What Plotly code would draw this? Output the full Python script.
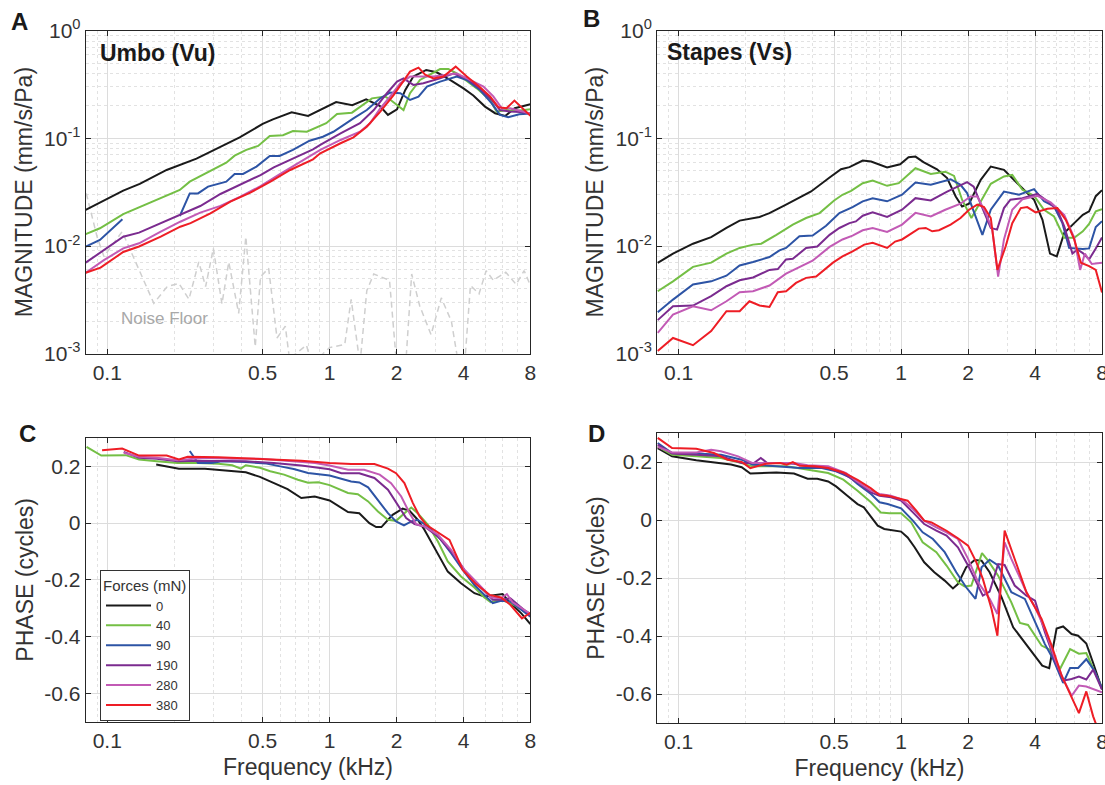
import numpy as np
import plotly.graph_objects as go

W, H = 1105, 785

FORCES = ["0", "40", "90", "190", "280", "380"]
COLORS = ["#1a1a1a", "#74bf45", "#2d54a5", "#7b2b8f", "#c25ab5", "#ee1d25"]

X_TICKS = [0.1, 0.5, 1, 2, 4, 8]
X_TICK_TEXT = ["0.1", "0.5", "1", "2", "4", "8"]
X_MINOR = [0.09, 0.2, 0.3, 0.4, 0.6, 0.7, 0.8, 0.9, 3, 5, 6, 7]
MAG_TICKS = [0.001, 0.01, 0.1, 1]
MAG_TICK_TEXT = ["10<sup>-3</sup>", "10<sup>-2</sup>", "10<sup>-1</sup>", "10<sup>0</sup>"]
MAG_MINOR = [2e-3, 3e-3, 4e-3, 5e-3, 6e-3, 7e-3, 8e-3, 9e-3,
             2e-2, 3e-2, 4e-2, 5e-2, 6e-2, 7e-2, 8e-2, 9e-2,
             0.2, 0.3, 0.4, 0.5, 0.6, 0.7, 0.8, 0.9]
PH_TICKS = [-0.6, -0.4, -0.2, 0, 0.2]
PH_TICK_TEXT = ["-0.6", "-0.4", "-0.2", "0", "0.2"]

# ---------------- Panel A: Umbo magnitude (mm/s/Pa) ----------------
A_BLACK_F = [0.08, 0.118, 0.140, 0.185, 0.252, 0.321, 0.394, 0.5, 0.556, 0.675, 0.80, 1.07, 1.265, 1.46, 1.68, 1.83, 2.01, 2.19, 2.38, 2.72, 3.03, 3.48, 4.0, 4.43, 5.0, 5.55, 6.16, 6.8, 8.0]
A_BLACK_V = [0.0216, 0.0327, 0.0377, 0.0508, 0.0648, 0.0825, 0.102, 0.136, 0.150, 0.174, 0.161, 0.217, 0.203, 0.230, 0.20, 0.165, 0.186, 0.281, 0.374, 0.431, 0.41, 0.348, 0.291, 0.25, 0.197, 0.171, 0.161, 0.19, 0.207]
A_GREEN_F = [0.08, 0.0927, 0.118, 0.150, 0.212, 0.235, 0.279, 0.343, 0.374, 0.422, 0.477, 0.538, 0.617, 0.684, 0.79, 0.966, 1.08, 1.26, 1.55, 1.78, 1.9, 2.15, 2.30, 2.55, 3.14, 3.42, 3.73, 4.59, 5.27, 5.64, 6.25, 7.0, 8.0]
A_GREEN_V = [0.0129, 0.0146, 0.0198, 0.0245, 0.0331, 0.0396, 0.0473, 0.0594, 0.069, 0.078, 0.085, 0.105, 0.107, 0.117, 0.115, 0.138, 0.168, 0.173, 0.235, 0.244, 0.223, 0.183, 0.262, 0.348, 0.44, 0.44, 0.40, 0.291, 0.227, 0.177, 0.183, 0.18, 0.186]
A_BLUE_F = [0.08, 0.0927, 0.117, 0.15, 0.212, 0.235, 0.256, 0.284, 0.343, 0.374, 0.408, 0.469, 0.538, 0.596, 0.684, 0.813, 0.933, 1.04, 1.28, 1.47, 1.69, 1.87, 2.08, 2.30, 2.51, 2.74, 3.14, 3.73, 4.14, 4.75, 5.36, 5.84, 6.36, 7.13, 8.0]
A_BLUE_V = [0.00986, 0.0114, 0.0177, None, 0.019, 0.0308, 0.0308, 0.0356, 0.0396, 0.0467, 0.0467, 0.0546, 0.0686, 0.0686, 0.078, 0.095, 0.1035, 0.115, 0.153, 0.183, 0.235, 0.266, 0.262, 0.227, 0.244, 0.302, 0.336, 0.374, 0.348, 0.281, 0.211, 0.165, 0.157, 0.167, 0.17]
A_PURPLE_F = [0.08, 0.0966, 0.118, 0.139, 0.174, 0.213, 0.262, 0.323, 0.397, 0.489, 0.561, 0.665, 0.842, 0.908, 1.12, 1.37, 1.58, 1.81, 2.01, 2.15, 2.38, 2.64, 3.14, 3.6, 4.14, 4.75, 5.36, 5.84, 6.48, 7.2, 8.0]
A_PURPLE_V = [0.0070, 0.0092, 0.0122, 0.0133, 0.0163, 0.0194, 0.0235, 0.0304, 0.0369, 0.0456, 0.0538, 0.063, 0.079, 0.0867, 0.111, 0.138, 0.183, 0.262, 0.336, 0.36, 0.313, 0.325, 0.36, 0.40, 0.36, 0.291, 0.227, 0.183, 0.177, 0.175, 0.17]
A_PINK_F = [0.08, 0.0966, 0.118, 0.139, 0.174, 0.213, 0.262, 0.323, 0.397, 0.489, 0.60, 0.738, 0.908, 1.12, 1.37, 1.52, 1.69, 1.87, 2.08, 2.30, 2.55, 2.93, 3.36, 3.73, 4.28, 4.92, 5.45, 5.95, 6.48, 7.2, 8.0]
A_PINK_V = [0.00565, 0.0074, 0.0095, 0.0106, 0.0136, 0.0168, 0.0204, 0.0236, 0.0287, 0.036, 0.0467, 0.060, 0.078, 0.0965, 0.115, 0.138, 0.19, 0.244, 0.324, 0.374, 0.374, 0.374, 0.39, 0.40, 0.348, 0.302, 0.245, 0.19, 0.19, 0.18, 0.17]
A_RED_F = [0.08, 0.0933, 0.118, 0.139, 0.174, 0.213, 0.237, 0.291, 0.358, 0.44, 0.542, 0.665, 0.842, 0.908, 1.12, 1.28, 1.47, 1.69, 1.94, 2.15, 2.30, 2.51, 2.69, 2.93, 3.25, 3.69, 4.14, 4.75, 5.27, 5.75, 6.25, 6.78, 8.0]
A_RED_V = [0.00565, 0.0063, 0.0088, 0.0099, 0.0122, 0.0151, 0.0163, 0.0201, 0.0258, 0.0313, 0.0396, 0.0508, 0.0638, 0.0726, 0.090, 0.102, 0.128, 0.177, 0.252, 0.336, 0.416, 0.453, 0.39, 0.36, 0.374, 0.463, 0.374, 0.298, 0.245, 0.194, 0.19, 0.224, 0.162]
NOISE_F = [0.0805, 0.090, 0.0966, 0.1167, 0.162, 0.186, 0.21, 0.233, 0.258, 0.277, 0.30, 0.328, 0.352, 0.39, 0.42, 0.463, 0.489, 0.532, 0.58, 0.632, 0.66, 0.787, 0.83, 1.0, 1.17, 1.25, 1.37, 1.47, 1.58, 1.86, 2.0, 2.2, 2.34, 2.54, 2.86, 3.18, 3.53, 3.8, 4.05, 4.3, 4.7, 5.06, 5.45, 6.2, 6.9, 7.5, 8.0]
NOISE_V = [0.0308, 0.0122, 0.008, 0.0136, 0.00294, 0.0042, 0.0045, 0.0032, 0.0071, 0.0042, 0.0095, 0.0029, 0.0071, 0.00237, 0.0122, 0.00116, 0.0052, 0.0062, 0.0014, 0.0018, 0.0009, 0.0012, 0.0008, 0.00114, 0.00122, 0.0032, 0.0008, 0.00385, 0.0055, 0.0048, 0.0008, 0.0008, 0.0055, 0.0028, 0.0015, 0.0033, 0.002, 0.0008, 0.0008, 0.0043, 0.0036, 0.0059, 0.0048, 0.0057, 0.0044, 0.0059, 0.0043]

# ---------------- Panel B: Stapes magnitude (mm/s/Pa) ----------------
B_BLACK_F = [0.0805, 0.0943, 0.116, 0.140, 0.164, 0.188, 0.231, 0.256, 0.304, 0.349, 0.394, 0.477, 0.537, 0.586, 0.672, 0.733, 0.865, 0.99, 1.08, 1.16, 1.26, 1.45, 1.61, 1.76, 1.88, 2.02, 2.28, 2.53, 2.90, 3.33, 3.96, 4.32, 4.67, 5.01, 5.41, 6.0, 6.56, 7.0, 7.5, 8.0]
B_BLACK_V = [0.00697, 0.0085, 0.0105, 0.0121, 0.0147, 0.0172, 0.0186, 0.0202, 0.0242, 0.0284, 0.0321, 0.0432, 0.0516, 0.054, 0.0621, 0.0608, 0.0535, 0.0574, 0.0667, 0.0676, 0.06, 0.0516, 0.0427, 0.0288, 0.0233, 0.0247, 0.0411, 0.0547, 0.0509, 0.0383, 0.0269, 0.0175, 0.0085, 0.008, 0.0132, 0.0163, 0.0195, 0.021, 0.029, 0.033]
B_GREEN_F = [0.0805, 0.0943, 0.116, 0.140, 0.164, 0.188, 0.216, 0.235, 0.275, 0.326, 0.374, 0.43, 0.5, 0.545, 0.596, 0.672, 0.745, 0.865, 0.976, 1.16, 1.36, 1.58, 1.73, 1.88, 2.07, 2.28, 2.53, 2.9, 3.16, 3.51, 3.96, 4.39, 4.87, 5.41, 6.0, 6.56, 7.0, 7.5, 8.0]
B_GREEN_V = [0.0038, 0.0047, 0.0064, 0.007, 0.0085, 0.0096, 0.0103, 0.0105, 0.0127, 0.0158, 0.0182, 0.0202, 0.0265, 0.0299, 0.0325, 0.0383, 0.0405, 0.0362, 0.0383, 0.0527, 0.0467, 0.049, 0.0448, 0.0269, 0.0182, 0.026, 0.0378, 0.0442, 0.0457, 0.0333, 0.0292, 0.0217, 0.0188, 0.0119, 0.0119, 0.0137, 0.016, 0.021, 0.022]
B_BLUE_F = [0.0805, 0.0943, 0.116, 0.140, 0.164, 0.188, 0.216, 0.256, 0.284, 0.304, 0.349, 0.4, 0.46, 0.528, 0.605, 0.672, 0.745, 0.865, 1.01, 1.16, 1.36, 1.67, 1.85, 1.98, 2.12, 2.32, 2.53, 2.90, 3.39, 3.69, 3.96, 4.39, 4.87, 5.31, 5.69, 6.56, 7.0, 7.5, 8.0]
B_BLUE_V = [0.00243, 0.00318, 0.00439, 0.0047, 0.0053, 0.0066, 0.0071, 0.0079, 0.0091, 0.0096, 0.0123, 0.0125, 0.0154, 0.0202, 0.023, 0.026, 0.0278, 0.026, 0.0299, 0.0389, 0.037, 0.0417, 0.037, 0.031, 0.021, 0.0127, 0.0217, 0.032, 0.0299, 0.032, 0.0337, 0.026, 0.0233, 0.0163, 0.0096, 0.0094, 0.0095, 0.015, 0.017]
B_PURPLE_F = [0.0805, 0.0943, 0.116, 0.140, 0.164, 0.188, 0.216, 0.256, 0.279, 0.304, 0.326, 0.374, 0.42, 0.477, 0.528, 0.586, 0.626, 0.672, 0.745, 0.865, 1.01, 1.16, 1.36, 1.61, 1.98, 2.12, 2.32, 2.53, 2.7, 2.9, 3.1, 3.51, 4.1, 4.55, 5.04, 5.41, 5.89, 6.2, 6.56, 7.0, 7.5, 8.0]
B_PURPLE_V = [0.00205, 0.00276, 0.0028, 0.00342, 0.00423, 0.0048, 0.0051, 0.006, 0.0061, 0.0075, 0.0076, 0.0096, 0.0099, 0.0127, 0.0147, 0.0163, 0.0169, 0.0191, 0.0205, 0.0186, 0.0217, 0.0278, 0.0265, 0.032, 0.0392, 0.0356, 0.0225, 0.0147, 0.0142, 0.0225, 0.0269, 0.0278, 0.0305, 0.026, 0.0217, 0.0152, 0.0085, 0.0093, 0.0086, 0.0075, 0.0095, 0.012]
B_PINK_F = [0.0805, 0.0943, 0.116, 0.140, 0.164, 0.188, 0.216, 0.256, 0.304, 0.349, 0.4, 0.477, 0.545, 0.605, 0.672, 0.745, 0.865, 1.01, 1.16, 1.36, 1.58, 1.85, 2.05, 2.2, 2.4, 2.57, 2.73, 2.9, 3.16, 3.51, 4.1, 4.7, 5.41, 6.0, 6.38, 6.7, 7.2, 8.0]
B_PINK_V = [0.00156, 0.00231, 0.00276, 0.00253, 0.00307, 0.00372, 0.0038, 0.0043, 0.00554, 0.0064, 0.0073, 0.0098, 0.0115, 0.0125, 0.014, 0.0147, 0.0135, 0.0158, 0.0203, 0.0188, 0.0217, 0.0247, 0.0288, 0.0288, 0.0203, 0.0142, 0.0052, 0.0115, 0.0217, 0.0272, 0.0292, 0.0254, 0.0195, 0.0119, 0.006, 0.0085, 0.0068, 0.007]
B_RED_F = [0.0805, 0.0943, 0.116, 0.140, 0.164, 0.188, 0.208, 0.231, 0.256, 0.279, 0.304, 0.337, 0.374, 0.415, 0.494, 0.545, 0.605, 0.683, 0.745, 0.865, 0.94, 1.01, 1.2, 1.29, 1.38, 1.48, 1.67, 1.85, 2.02, 2.2, 2.36, 2.53, 2.71, 2.95, 3.16, 3.45, 3.69, 4.02, 4.55, 5.04, 5.5, 6.0, 6.43, 7.0, 7.5, 8.0]
B_RED_V = [0.00106, 0.0014, 0.0012, 0.00162, 0.00248, 0.00248, 0.00307, 0.0028, 0.00272, 0.00372, 0.0038, 0.00454, 0.00506, 0.0052, 0.0070, 0.008, 0.0089, 0.0103, 0.0107, 0.0096, 0.011, 0.0115, 0.0145, 0.0147, 0.0137, 0.014, 0.0158, 0.0182, 0.0217, 0.0242, 0.023, 0.0182, 0.006, 0.0099, 0.0163, 0.0225, 0.023, 0.0205, 0.0222, 0.0225, 0.0175, 0.0115, 0.007, 0.0065, 0.006, 0.0037]

# ---------------- Panel C: Umbo phase (cycles) ----------------
C_BLACK_F = [0.166, 0.21, 0.275, 0.34, 0.42, 0.486, 0.561, 0.647, 0.746, 0.857, 1.0, 1.13, 1.21, 1.36, 1.51, 1.62, 1.71, 1.92, 2.13, 2.29, 2.49, 2.67, 2.96, 3.40, 3.90, 4.48, 4.97, 5.7, 6.0, 6.4, 7.3, 8.0]
C_BLACK_V = [0.2065, 0.192, 0.192, 0.186, 0.179, 0.163, 0.142, 0.12, 0.0885, 0.094, 0.08, 0.053, 0.039, 0.035, 0.0, -0.014, -0.014, 0.029, 0.051, 0.0435, 0.012, -0.0235, -0.088, -0.171, -0.212, -0.247, -0.259, -0.253, -0.25, -0.276, -0.319, -0.356]
C_GREEN_F = [0.0807, 0.094, 0.121, 0.139, 0.167, 0.207, 0.256, 0.316, 0.365, 0.399, 0.42, 0.486, 0.541, 0.624, 0.72, 0.8, 0.89, 1.0, 1.21, 1.34, 1.49, 1.65, 1.83, 1.99, 2.17, 2.33, 2.49, 2.77, 3.07, 3.4, 3.9, 4.48, 4.97, 5.3, 5.9, 6.5, 8.0]
C_GREEN_V = [0.269, 0.238, 0.2395, 0.224, 0.218, 0.212, 0.212, 0.209, 0.204, 0.192, 0.204, 0.195, 0.183, 0.171, 0.153, 0.142, 0.144, 0.134, 0.106, 0.102, 0.0765, 0.041, 0.0118, 0.008, 0.035, 0.055, 0.035, -0.006, -0.065, -0.135, -0.188, -0.227, -0.262, -0.279, -0.27, -0.282, -0.319]
C_BLUE_F = [0.235, 0.256, 0.295, 0.328, 0.42, 0.52, 0.60, 0.69, 0.80, 1.0, 1.25, 1.36, 1.49, 1.65, 1.83, 1.99, 2.16, 2.33, 2.49, 2.77, 3.17, 3.52, 3.97, 4.48, 4.89, 5.42, 5.9, 6.5, 8.0]
C_BLUE_V = [0.254, 0.212, 0.212, 0.218, 0.215, 0.21, 0.2, 0.191, 0.177, 0.168, 0.147, 0.1435, 0.126, 0.082, 0.035, 0.006, -0.008, 0.006, 0.012, -0.012, -0.059, -0.106, -0.165, -0.218, -0.247, -0.282, -0.274, -0.276, -0.33]
C_PURPLE_F = [0.1186, 0.139, 0.167, 0.207, 0.256, 0.316, 0.42, 0.561, 0.746, 1.0, 1.13, 1.36, 1.59, 1.83, 2.03, 2.21, 2.41, 2.67, 3.07, 3.52, 4.04, 4.63, 5.42, 5.9, 6.5, 8.0]
C_PURPLE_V = [0.251, 0.23, 0.2265, 0.218, 0.22, 0.22, 0.218, 0.212, 0.203, 0.19, 0.176, 0.176, 0.159, 0.118, 0.065, 0.018, -0.0035, -0.012, -0.047, -0.1, -0.165, -0.212, -0.27, -0.27, -0.265, -0.325]
C_PINK_F = [0.1186, 0.139, 0.167, 0.207, 0.275, 0.365, 0.486, 0.647, 0.861, 1.0, 1.21, 1.43, 1.68, 1.89, 2.10, 2.29, 2.45, 2.67, 3.07, 3.52, 4.04, 4.63, 5.33, 5.9, 6.27, 6.65, 8.0]
C_PINK_V = [0.248, 0.234, 0.23, 0.222, 0.23, 0.2265, 0.2265, 0.218, 0.212, 0.203, 0.188, 0.188, 0.171, 0.141, 0.094, 0.035, -0.0035, -0.012, -0.041, -0.094, -0.165, -0.212, -0.262, -0.265, -0.25, -0.279, -0.32]
C_RED_F = [0.0948, 0.1167, 0.139, 0.185, 0.21, 0.23, 0.316, 0.42, 0.561, 0.746, 1.0, 1.25, 1.59, 1.83, 1.99, 2.17, 2.37, 2.54, 2.72, 3.07, 3.46, 3.97, 4.55, 5.24, 5.9, 6.5, 7.33, 8.0]
C_RED_V = [0.257, 0.263, 0.238, 0.238, 0.224, 0.234, 0.2325, 0.228, 0.224, 0.2195, 0.212, 0.208, 0.208, 0.192, 0.176, 0.141, 0.0706, 0.0235, -0.006, -0.032, -0.059, -0.165, -0.215, -0.253, -0.262, -0.288, -0.336, -0.316]

# ---------------- Panel D: Stapes phase (cycles) ----------------
D_BLACK_F = [0.0805, 0.0934, 0.12, 0.155, 0.172, 0.192, 0.21, 0.275, 0.33, 0.38, 0.42, 0.47, 0.51, 0.566, 0.637, 0.68, 0.785, 0.84, 1.0, 1.07, 1.15, 1.27, 1.41, 1.57, 1.71, 1.8, 1.96, 2.14, 2.30, 2.5, 2.83, 3.19, 3.6, 4.0, 4.31, 4.63, 5.0, 5.35, 5.84, 6.25, 6.8, 7.3, 8.0]
D_BLACK_V = [0.248, 0.2195, 0.206, 0.194, 0.191, 0.182, 0.16, 0.164, 0.16, 0.1425, 0.1425, 0.133, 0.116, 0.087, 0.055, 0.0437, -0.0195, -0.031, -0.040, -0.06, -0.094, -0.146, -0.18, -0.209, -0.236, -0.221, -0.163, -0.138, -0.14, -0.18, -0.267, -0.37, -0.422, -0.468, -0.502, -0.511, -0.374, -0.367, -0.393, -0.399, -0.426, -0.493, -0.583]
D_GREEN_F = [0.0805, 0.0934, 0.12, 0.155, 0.192, 0.214, 0.306, 0.38, 0.47, 0.55, 0.637, 0.732, 0.81, 0.886, 1.0, 1.11, 1.25, 1.44, 1.6, 1.8, 1.93, 2.07, 2.31, 2.46, 2.73, 3.13, 3.42, 3.72, 4.28, 4.66, 5.18, 5.75, 6.3, 6.8, 8.0]
D_GREEN_V = [0.254, 0.225, 0.2195, 0.214, 0.1965, 0.185, 0.185, 0.1736, 0.162, 0.139, 0.101, 0.061, 0.026, 0.023, 0.023, -0.008, -0.077, -0.111, -0.157, -0.215, -0.229, -0.226, -0.114, -0.14, -0.192, -0.284, -0.355, -0.362, -0.433, -0.447, -0.514, -0.445, -0.461, -0.459, -0.58]
D_BLUE_F = [0.0805, 0.0934, 0.12, 0.155, 0.192, 0.214, 0.275, 0.35, 0.44, 0.51, 0.586, 0.637, 0.732, 0.8, 0.87, 1.0, 1.13, 1.25, 1.39, 1.57, 1.77, 1.96, 2.16, 2.30, 2.5, 2.73, 3.13, 3.6, 4.07, 4.43, 4.82, 5.35, 5.75, 6.25, 6.8, 7.4, 8.0]
D_BLUE_V = [0.2655, 0.231, 0.229, 0.225, 0.208, 0.191, 0.185, 0.179, 0.179, 0.168, 0.148, 0.124, 0.0897, 0.061, 0.055, 0.040, -0.0023, -0.0425, -0.0655, -0.111, -0.18, -0.232, -0.272, -0.163, -0.137, -0.157, -0.249, -0.272, -0.364, -0.428, -0.479, -0.562, -0.51, -0.51, -0.48, -0.52, -0.58]
D_PURPLE_F = [0.0805, 0.0934, 0.12, 0.155, 0.192, 0.218, 0.234, 0.25, 0.286, 0.33, 0.38, 0.47, 0.55, 0.637, 0.732, 0.8, 0.9, 1.0, 1.13, 1.27, 1.44, 1.6, 1.8, 2.0, 2.18, 2.33, 2.5, 2.73, 2.92, 3.24, 3.66, 4.0, 4.43, 4.92, 5.35, 5.84, 6.3, 6.8, 7.3, 8.0]
D_PURPLE_V = [0.26, 0.229, 0.225, 0.2195, 0.1965, 0.1965, 0.214, 0.1965, 0.1965, 0.194, 0.185, 0.179, 0.16, 0.13, 0.0954, 0.0839, 0.078, 0.0667, 0.0264, -0.0138, -0.037, -0.054, -0.094, -0.157, -0.215, -0.261, -0.247, -0.152, -0.155, -0.226, -0.261, -0.278, -0.387, -0.485, -0.554, -0.548, -0.54, -0.55, -0.516, -0.585]
D_PINK_F = [0.0805, 0.0934, 0.12, 0.14, 0.155, 0.185, 0.214, 0.275, 0.33, 0.38, 0.47, 0.566, 0.637, 0.732, 0.8, 0.9, 1.0, 1.13, 1.27, 1.44, 1.6, 1.8, 2.0, 2.22, 2.5, 2.71, 2.92, 3.13, 3.66, 4.0, 4.43, 4.92, 5.35, 5.84, 6.3, 6.8, 8.0]
D_PINK_V = [0.252, 0.233, 0.233, 0.2425, 0.237, 0.2195, 0.1965, 0.1965, 0.1965, 0.1885, 0.185, 0.162, 0.132, 0.101, 0.09, 0.084, 0.072, 0.038, -0.0023, -0.0253, -0.0425, -0.0655, -0.134, -0.215, -0.272, -0.324, -0.077, -0.134, -0.249, -0.301, -0.376, -0.479, -0.548, -0.606, -0.571, -0.574, -0.594]
D_RED_F = [0.0805, 0.0934, 0.12, 0.144, 0.166, 0.192, 0.21, 0.247, 0.286, 0.306, 0.326, 0.35, 0.41, 0.47, 0.55, 0.637, 0.732, 0.8, 0.87, 1.0, 1.07, 1.17, 1.27, 1.37, 1.46, 1.6, 1.8, 2.0, 2.18, 2.33, 2.55, 2.71, 2.92, 3.24, 3.66, 4.28, 4.75, 5.27, 5.84, 6.3, 6.8, 7.3, 8.0]
D_RED_V = [0.283, 0.248, 0.246, 0.231, 0.208, 0.2, 0.179, 0.194, 0.1965, 0.191, 0.2, 0.187, 0.185, 0.179, 0.164, 0.138, 0.109, 0.0862, 0.084, 0.072, 0.0667, 0.0322, -0.0023, -0.008, -0.0195, -0.037, -0.063, -0.0885, -0.146, -0.203, -0.307, -0.399, -0.0368, -0.134, -0.249, -0.341, -0.433, -0.537, -0.611, -0.666, -0.591, -0.677, -0.76]

PANELS = {
    "A": ([A_BLACK_F, A_GREEN_F, A_BLUE_F, A_PURPLE_F, A_PINK_F, A_RED_F],
          [A_BLACK_V, A_GREEN_V, A_BLUE_V, A_PURPLE_V, A_PINK_V, A_RED_V]),
    "B": ([B_BLACK_F, B_GREEN_F, B_BLUE_F, B_PURPLE_F, B_PINK_F, B_RED_F],
          [B_BLACK_V, B_GREEN_V, B_BLUE_V, B_PURPLE_V, B_PINK_V, B_RED_V]),
    "C": ([C_BLACK_F, C_GREEN_F, C_BLUE_F, C_PURPLE_F, C_PINK_F, C_RED_F],
          [C_BLACK_V, C_GREEN_V, C_BLUE_V, C_PURPLE_V, C_PINK_V, C_RED_V]),
    "D": ([D_BLACK_F, D_GREEN_F, D_BLUE_F, D_PURPLE_F, D_PINK_F, D_RED_F],
          [D_BLACK_V, D_GREEN_V, D_BLUE_V, D_PURPLE_V, D_PINK_V, D_RED_V]),
}

FONT = "Liberation Sans, Arial, Helvetica, sans-serif"
TXT = "#333333"
TICK_SIZE = 21
TITLE_SIZE = 23

def px_x(p):
    return p / W

def px_y(p):
    return 1 - p / H

# plot-area rectangles in pixels: left, right, top, bottom
BOX = {
    "A": (85.7, 530.4, 30.6, 353.7),
    "B": (657.1, 1102.0, 30.6, 353.7),
    "C": (85.7, 530.4, 438.0, 721.7),
    "D": (657.1, 1102.0, 433.0, 723.0),
}
AX = {"A": ("x", "y"), "B": ("x2", "y2"), "C": ("x3", "y3"), "D": ("x4", "y4")}

fig = go.Figure()

# noise floor (panel A)
fig.add_trace(go.Scatter(x=NOISE_F, y=NOISE_V, mode="lines", xaxis="x", yaxis="y",
                         line=dict(color="#cfcfcf", width=1.5, dash="6px,4px"),
                         showlegend=False, hoverinfo="skip"))

for key, (fl, vl) in PANELS.items():
    xa, ya = AX[key]
    for i in range(6):
        fig.add_trace(go.Scatter(
            x=fl[i], y=vl[i], mode="lines", xaxis=xa, yaxis=ya,
            name=FORCES[i], showlegend=(key == "C"), connectgaps=False,
            line=dict(color=COLORS[i], width=2)))

layout = dict(width=W, height=H, margin=dict(l=0, r=0, t=0, b=0, pad=0, autoexpand=False),
              paper_bgcolor="white", plot_bgcolor="white",
              font=dict(family=FONT, color=TXT, size=19))

COMMON = dict(ticks="inside", ticklen=5, tickcolor="#262626", tickwidth=1,
              showline=True, linecolor="#262626", linewidth=1, mirror="ticks",
              showgrid=True, gridcolor="#dcdcdc", gridwidth=1, zeroline=False,
              automargin=False, ticklabeloverflow="allow",
              tickfont=dict(size=TICK_SIZE, color=TXT))

def xaxis_cfg(key, anchor, title):
    l, r, t, b = BOX[key]
    cfg = dict(type="log", range=[np.log10(0.08), np.log10(8)], domain=[px_x(l), px_x(r)],
               anchor=anchor, tickvals=X_TICKS, ticktext=X_TICK_TEXT,
               minor=dict(tickvals=X_MINOR, showgrid=True, gridcolor="#e2e2e2",
                          griddash="dot", gridwidth=1, ticks=""), **COMMON)
    if title:
        cfg["title"] = dict(text=title, font=dict(size=TITLE_SIZE, color=TXT), standoff=7)
    return cfg

def yaxis_mag(key, anchor):
    l, r, t, b = BOX[key]
    return dict(type="log", range=[-3, 0], domain=[px_y(b), px_y(t)], anchor=anchor,
                tickvals=MAG_TICKS, ticktext=MAG_TICK_TEXT,
                minor=dict(tickvals=MAG_MINOR, showgrid=True, gridcolor="#e2e2e2",
                           griddash="dot", gridwidth=1, ticks=""),
                title=dict(text="MAGNITUDE (mm/s/Pa)", font=dict(size=TITLE_SIZE, color=TXT), standoff=5),
                **COMMON)

def yaxis_ph(key, anchor):
    l, r, t, b = BOX[key]
    return dict(range=[-0.7, 0.3], domain=[px_y(b), px_y(t)], anchor=anchor,
                tickvals=PH_TICKS, ticktext=PH_TICK_TEXT,
                title=dict(text="PHASE (cycles)", font=dict(size=TITLE_SIZE, color=TXT), standoff=4),
                **COMMON)

layout["xaxis"] = xaxis_cfg("A", "y", None)
layout["xaxis2"] = xaxis_cfg("B", "y2", None)
layout["xaxis3"] = xaxis_cfg("C", "y3", "Frequency (kHz)")
layout["xaxis4"] = xaxis_cfg("D", "y4", "Frequency (kHz)")
layout["yaxis"] = yaxis_mag("A", "x")
layout["yaxis2"] = yaxis_mag("B", "x2")
layout["yaxis3"] = yaxis_ph("C", "x3")
layout["yaxis4"] = yaxis_ph("D", "x4")

layout["legend"] = dict(
    x=px_x(100), y=px_y(570), xanchor="left", yanchor="top",
    bgcolor="white", bordercolor="#333333", borderwidth=1,
    font=dict(size=13, color=TXT), tracegroupgap=0,
    title=dict(text="Forces (mN)", font=dict(size=15, color=TXT), side="top"),
    itemwidth=45)

annotations = []
for letter, (lx, ly) in {"A": (19, 22), "B": (591, 19), "C": (27, 433), "D": (596, 433)}.items():
    annotations.append(dict(text="<b>%s</b>" % letter, x=px_x(lx), y=px_y(ly), xref="paper", yref="paper",
                            showarrow=False, xanchor="center", yanchor="middle",
                            font=dict(size=24, color="#1a1a1a")))
annotations.append(dict(text="<b>Umbo (Vu)</b>", x=px_x(98), y=px_y(53), xref="paper", yref="paper",
                        showarrow=False, xanchor="left", yanchor="middle", font=dict(size=23, color="#1a1a1a")))
annotations.append(dict(text="<b>Stapes (Vs)</b>", x=px_x(665), y=px_y(52), xref="paper", yref="paper",
                        showarrow=False, xanchor="left", yanchor="middle", font=dict(size=23, color="#1a1a1a")))
annotations.append(dict(text="Noise Floor", x=px_x(119), y=px_y(318), xref="paper", yref="paper",
                        showarrow=False, xanchor="left", yanchor="middle", font=dict(size=17, color="#a8a8a8")))
layout["annotations"] = annotations

fig.update_layout(**layout)
fig.write_html("out.html")
